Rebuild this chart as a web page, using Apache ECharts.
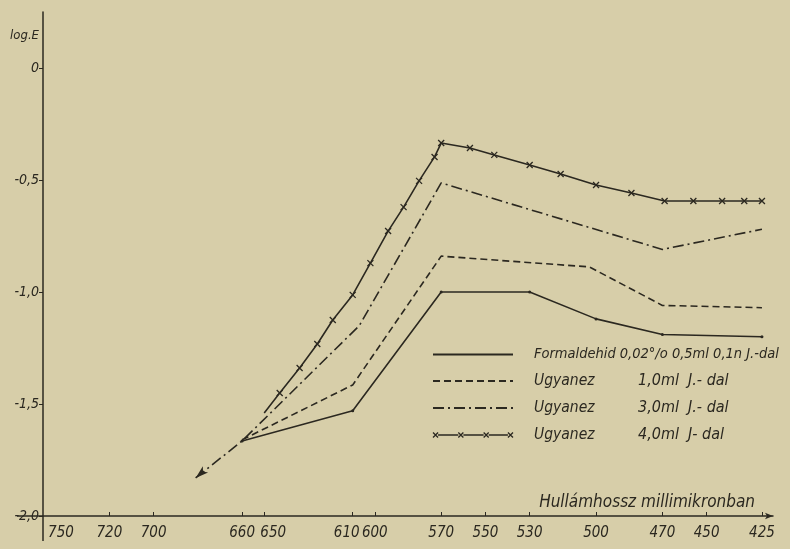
<!DOCTYPE html>
<html>
<head>
<meta charset="utf-8">
<title>log E</title>
<script src="https://cdn.jsdelivr.net/npm/echarts@6/dist/echarts.min.js"></script>
<style>
    html, body { margin: 0; padding: 0; background: #d7cea9; }
    #chart { width: 790px; height: 549px; }
</style>
</head>
<body>
<div id="chart"></div>
<script>
// hullámhossz (nm) tengely feliratai
const xTicks = [ 750, 720, 700, 660, 650, 610, 600, 570, 550, 530, 500, 470, 450, 425 ];
const yTicks = [ 0, -0.5, -1.0, -1.5, -2.0 ];

const seriesNames = [
    'Formaldehid 0,02°/o 0,5ml 0,1n J.-dal',
    'Ugyanez 1,0ml  J.- dal',
    'Ugyanez 3,0ml  J.- dal',
    'Ugyanez 4,0ml  J- dal'
];

// 0,5 ml
const solidWl = [ 660, 610, 570, 530, 500, 470, 425 ];
const solidLog = [ -1.665, -1.53, -1.0, -1.0, -1.12, -1.19, -1.2 ];

// 1,0 ml
const dashedWl = [ 660, 610, 570, 503, 470, 425 ];
const dashedLog = [ -1.66, -1.415, -0.84, -0.888, -1.06, -1.07 ];

// 3,0 ml
const dashDotWl = [ 681, 660, 607, 570, 470, 425 ];
const dashDotLog = [ -1.83, -1.665, -1.15, -0.513, -0.81, -0.72 ];

// 4,0 ml (x jelek)
const crossWl = [ 650, 643, 634, 626, 619, 610, 602, 594, 587, 580, 573, 570, 557, 546, 530, 516, 500, 484, 469, 456, 443, 433, 425 ];
const crossLog = [ -1.54, -1.451, -1.339, -1.232, -1.125, -1.013, -0.871, -0.728, -0.621, -0.504, -0.397, -0.335, -0.357, -0.388, -0.433, -0.473, -0.522, -0.558, -0.594, -0.594, -0.594, -0.594, -0.594 ];

const ink = '#2b2820';
const font = "'DejaVu Sans Condensed', 'Liberation Sans Narrow', sans-serif";

// x—x—x—x jelkép a jelmagyarázathoz
const crossLegendIcon = 'path://M0.5,0L5.5,5M5.5,0L0.5,5M5.5,2.5L25.5,2.5M25.5,0L30.5,5M30.5,0L25.5,5M30.5,2.5L50.5,2.5'
    + 'M50.5,0L55.5,5M55.5,0L50.5,5M55.5,2.5L74.5,2.5M74.5,0L79.5,5M79.5,0L74.5,5';

const chartContext = {
    pairs( xs, ys ) {
        return xs.map( ( x, i ) => [ x, ys[i] ] );
    },
    build() {
        const el = document.getElementById( 'chart' );
        const c = echarts.init( el, null, { renderer: 'canvas' } );

        const dashDotData = this.pairs( dashDotWl, dashDotLog ).map( ( p, i ) => i === 0
            ? { value: p, symbol: 'arrow', symbolSize: [ 6, 13 ], symbolRotate: 131 }
            : { value: p } );
        const crossData = this.pairs( crossWl, crossLog ).map( ( p, i ) => i === 0
            ? { value: p, symbol: 'none' }
            : { value: p } );

        const labelStyle = { fontFamily: font, fontStyle: 'italic', fontSize: 15, color: ink };
        const legendText = size => ( { fontFamily: font, fontStyle: 'italic', fontSize: size, color: ink, lineHeight: 14 } );

        const option = {
            backgroundColor: '#d7cea9',
            animation: false,
            textStyle: { fontFamily: font, fontStyle: 'italic', color: ink },
            grid: { left: 43, right: 17, top: 12, bottom: 33, outerBoundsMode: 'none' },
            title: {
                text: 'Hullámhossz millimikronban',
                right: 30,
                top: 489,
                textStyle: { fontFamily: font, fontStyle: 'italic', fontWeight: 'normal', fontSize: 17, color: ink }
            },
            // tengelyek kinyúló végei
            graphic: [
                { type: 'line', shape: { x1: 17, y1: 516, x2: 43, y2: 516 }, style: { stroke: ink, lineWidth: 1.5 } },
                { type: 'line', shape: { x1: 43, y1: 516, x2: 43, y2: 541 }, style: { stroke: ink, lineWidth: 1.5 } }
            ],
            legend: {
                orient: 'vertical',
                left: 427,
                top: 342,
                itemWidth: 80,
                itemHeight: 14,
                itemGap: 11,
                data: seriesNames.map( ( n, i ) => i < 3
                    ? { name: n, itemStyle: { opacity: 0 } }
                    : { name: n, icon: crossLegendIcon, itemStyle: { color: 'transparent', borderColor: ink, borderWidth: 1.3 } } ),
                textStyle: Object.assign( legendText( 14.5 ), {
                    rich: {
                        g: { width: 16, lineHeight: 14 },
                        a: Object.assign( { width: 104 }, legendText( 15.5 ) ),
                        b: legendText( 14.5 ),
                        c: legendText( 16 )
                    }
                } ),
                formatter( name ) {
                    if ( name.indexOf( 'Ugyanez' ) === 0 ) {
                        return '{g| }{a|Ugyanez}{c|' + name.slice( 8 ) + '}';
                    }
                    return '{g| }{b|' + name + '}';
                }
            },
            xAxis: {
                type: 'value',
                inverse: true,
                min: 420,
                max: 750,
                splitLine: { show: false },
                axisLine: { onZero: false, lineStyle: { color: ink, width: 1.5 }, symbol: [ 'none', 'arrow' ], symbolSize: [ 5, 8 ] },
                axisTick: { inside: true, length: 4, customValues: xTicks.slice( 1 ), lineStyle: { color: ink } },
                axisLabel: Object.assign( {}, labelStyle, {
                    customValues: xTicks,
                    margin: 10,
                    formatter: v => v === 750 ? '{s|750}' : v === 650 ? '{t|650}' : v === 610 ? '{u|610}' : String( v ),
                    rich: {
                        s: Object.assign( { padding: [ 0, 0, 0, 36 ] }, labelStyle ),
                        t: Object.assign( { padding: [ 0, 0, 0, 18 ] }, labelStyle ),
                        u: Object.assign( { padding: [ 0, 12, 0, 0 ] }, labelStyle )
                    }
                } )
            },
            yAxis: {
                type: 'value',
                min: -2,
                max: 0.25,
                name: 'log.E',
                nameLocation: 'end',
                nameGap: -30,
                nameTextStyle: { fontFamily: font, fontStyle: 'italic', fontSize: 13, color: ink, align: 'right', padding: [ 0, 4, 0, 0 ] },
                splitLine: { show: false },
                axisLine: { onZero: false, lineStyle: { color: ink, width: 1.5 } },
                axisTick: { length: 4, customValues: yTicks, lineStyle: { color: ink } },
                axisLabel: {
                    customValues: yTicks,
                    margin: 4,
                    fontFamily: font,
                    fontStyle: 'italic',
                    fontSize: 14,
                    color: ink,
                    formatter: v => v === 0 ? '0' : v.toFixed( 1 ).replace( '.', ',' )
                }
            },
            series: [
                {
                    name: seriesNames[0],
                    type: 'line',
                    data: this.pairs( solidWl, solidLog ),
                    symbol: 'circle',
                    symbolSize: 3,
                    itemStyle: { color: ink },
                    lineStyle: { color: ink, width: 1.6, type: 'solid' }
                },
                {
                    name: seriesNames[1],
                    type: 'line',
                    data: this.pairs( dashedWl, dashedLog ),
                    symbol: 'none',
                    itemStyle: { color: ink },
                    lineStyle: { color: ink, width: 1.6, type: [ 7, 4 ] }
                },
                {
                    name: seriesNames[2],
                    type: 'line',
                    data: dashDotData,
                    symbol: 'none',
                    itemStyle: { color: ink },
                    lineStyle: { color: ink, width: 1.6, type: [ 11, 4, 2, 4 ] }
                },
                {
                    name: seriesNames[3],
                    type: 'line',
                    data: crossData,
                    symbol: 'path://M0,0L10,10M10,0L0,10',
                    symbolSize: 6,
                    itemStyle: { color: 'transparent', borderColor: ink, borderWidth: 1.3 },
                    lineStyle: { color: ink, width: 1.6, type: 'solid' }
                }
            ]
        };

        c.setOption( option );
    }
};

!(function () {
    document.addEventListener( "DOMContentLoaded", function () {
        chartContext.build();
    } );
})();
</script>
</body>
</html>
